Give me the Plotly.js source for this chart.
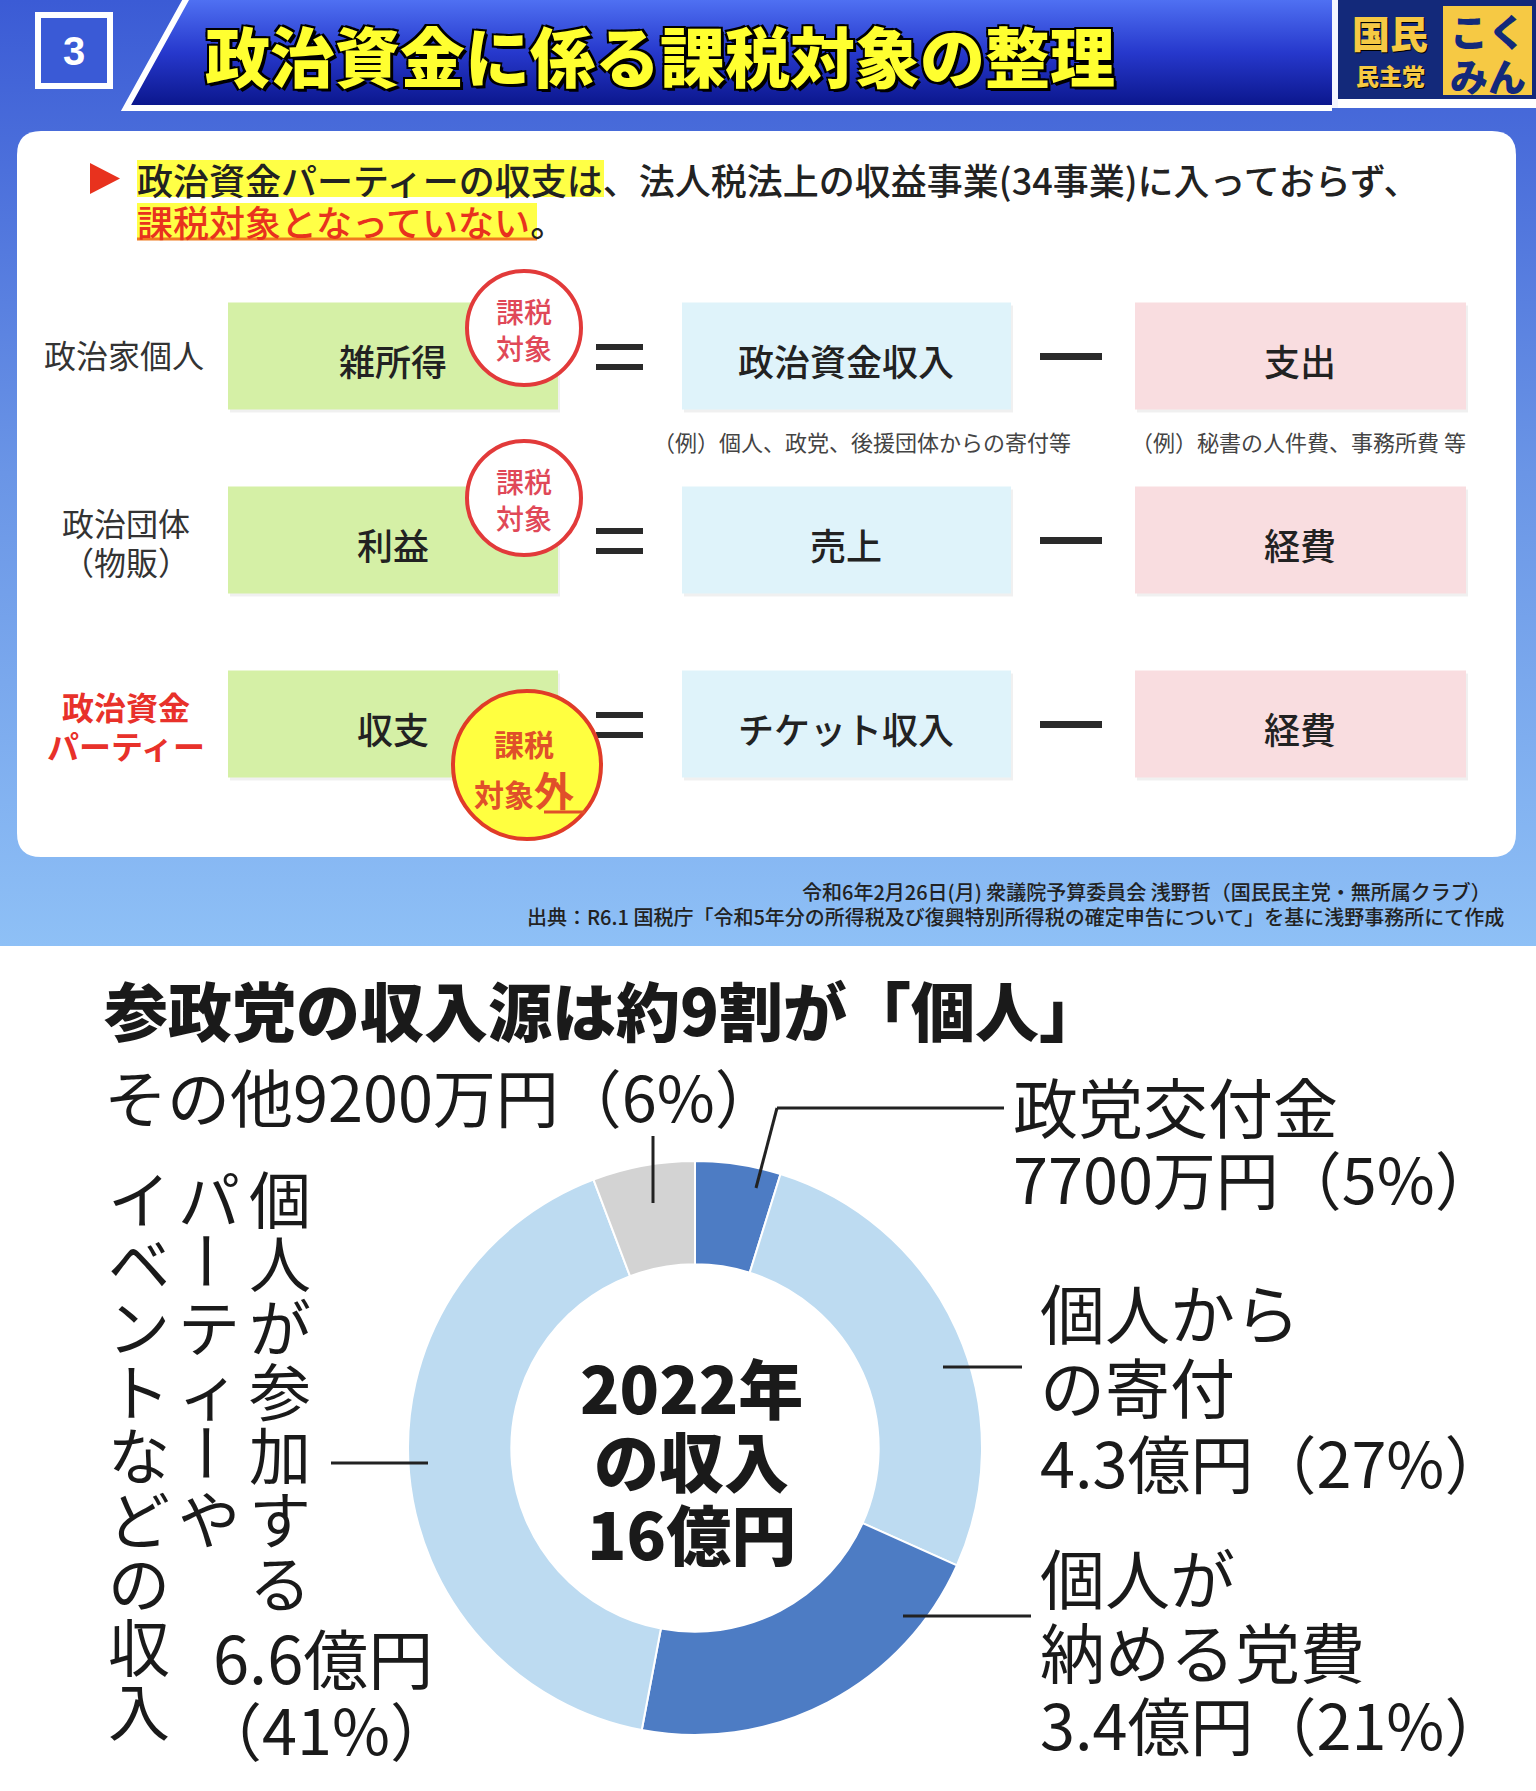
<!DOCTYPE html>
<html><head><meta charset="utf-8">
<script src="https://cdn.plot.ly/plotly-3.0.1.min.js"></script>
<style>html,body{margin:0;padding:0;background:#fff;}#chart{width:1536px;height:1791px;}</style>
</head><body><div id="chart"></div>
<script>
// ---------- data ----------
const headerTitle = '政治資金に係る課税対象の整理';
const rowLabels = [['政治家個人'], ['政治団体', '（物販）'], ['政治資金', 'パーティー']];
const resultTerms = ['雑所得', '利益', '収支'];
const revenueTerms = ['政治資金収入', '売上', 'チケット収入'];
const costTerms = ['支出', '経費', '経費'];
const taxStatus = ['課税対象', '課税対象', '課税対象外'];
const exampleNotes = ['（例）個人、政党、後援団体からの寄付等', '（例）秘書の人件費、事務所費 等'];
const footerLines = ['令和6年2月26日(月) 衆議院予算委員会 浅野哲（国民民主党・無所属クラブ）',
  '出典：R6.1 国税庁「令和5年分の所得税及び復興特別所得税の確定申告について」を基に浅野事務所にて作成'];

const pieTitle = '参政党の収入源は約9割が「個人」';
const sliceNames = ['政党交付金', '個人からの寄付', '個人が納める党費', '個人が参加するパーティーやイベントなどの収入', 'その他'];
const sliceAmounts = [0.77, 4.3, 3.4, 6.6, 0.92];           // 億円
const sliceAmountText = ['7700万円', '4.3億円', '3.4億円', '6.6億円', '9200万円'];
const slicePercents = [5, 27, 21, 41, 6];
const centerLines = ['2022年', 'の収入', '16億円'];

// ---------- layout helpers ----------
const W = 1536, H = 1791;
const JP = '"Noto Sans CJK JP", "Noto Sans", sans-serif';
const shapes = [], ann = [];
function rect(x0, y0, x1, y1, fill, line) {
  shapes.push({type: 'rect', xref: 'x', yref: 'y', x0, y0, x1, y1, fillcolor: fill,
    line: line || {width: 0}, layer: 'above'});
}
function path(p, fill, line) {
  shapes.push({type: 'path', xref: 'x', yref: 'y', path: p, fillcolor: fill || 'rgba(0,0,0,0)',
    line: line || {width: 0}, layer: 'above'});
}
function seg(x0, y0, x1, y1, color, width) {
  shapes.push({type: 'line', xref: 'x', yref: 'y', x0, y0, x1, y1, line: {color, width}, layer: 'above'});
}
function circ(cx, cy, r, fill, color, width) {
  shapes.push({type: 'circle', xref: 'x', yref: 'y', x0: cx - r, y0: cy - r, x1: cx + r, y1: cy + r,
    fillcolor: fill, line: {color, width}, layer: 'above'});
}
function rrect(x0, y0, x1, y1, r) {
  return `M${x0 + r},${y0} L${x1 - r},${y0} Q${x1},${y0} ${x1},${y0 + r} L${x1},${y1 - r} Q${x1},${y1} ${x1 - r},${y1} L${x0 + r},${y1} Q${x0},${y1} ${x0},${y1 - r} L${x0},${y0 + r} Q${x0},${y0} ${x0 + r},${y0} Z`;
}
function txt(x, y, text, size, color, o) {
  o = o || {};
  const a = {x, y, xref: 'x', yref: 'y', text, showarrow: false,
    xanchor: o.xa || 'center', yanchor: o.ya || 'middle', borderpad: 0,
    font: {family: o.family || JP, size, color, weight: o.weight || 400}};
  if (o.shadow) a.font.shadow = o.shadow;
  if (o.angle) a.textangle = o.angle;
  ann.push(a);
}

// ---------- header ----------
path('M190,-8 L126,108 L1332,108', null, {color: '#ffffff', width: 6});
seg(1335, 0, 1335, 108, '#f4f6ff', 6);
rect(1338, 0, 1536, 99, '#13297a');
rect(1338, 99, 1536, 108, '#ffffff');
rect(1443, 6, 1532, 95, '#f6c944');
rect(38, 15, 110, 86, '#3a5ad6', {color: '#ffffff', width: 6});
txt(74, 51, '3', 40, '#ffffff', {weight: 700, family: '"Liberation Sans", Arial, sans-serif'});
txt(204, 54, headerTitle, 65, '#ffff30', {xa: 'left', weight: 900,
  shadow: '3px 3px 0 #000, -2px -2px 0 #000, 2px -2px 0 #000, -2px 2px 0 #000, 2px 2px 0 #000'});
txt(1390, 31, '国民', 38, '#f6c944', {weight: 900, shadow: '1px 1px 0 #000'});
txt(1390, 75, '民主党', 23, '#f6c944', {weight: 900, shadow: '1px 1px 0 #000'});
txt(1488, 29, 'こく', 38, '#13297a', {weight: 900});
txt(1488, 74, 'みん', 38, '#13297a', {weight: 900});

// ---------- white panel ----------
path(rrect(17, 131, 1516, 857, 24), '#ffffff');
path('M90,163 L120,178.5 L90,194 Z', '#e8321e');
rect(137, 160, 604, 197, '#ffff46');
rect(137, 203, 537, 240, '#ffff46');
seg(137, 239, 537, 239, '#f07a1e', 3);
txt(136, 179, '政治資金パーティーの収支は、法人税法上の収益事業(34事業)に入っておらず、', 36, '#222222', {xa: 'left', weight: 500});
txt(136, 221, '<span style="color:#e8321e">課税対象となっていない</span>。', 36, '#222222', {xa: 'left', weight: 500});

const rowCenters = [356, 540, 724];
const boxH = 107;
const colBoxes = [[228, 558, '#d5f0a6'], [682, 1011, '#dff3fa'], [1135, 1466, '#f9dde0']];
rowCenters.forEach((cy, i) => {
  const y0 = cy - boxH / 2, y1 = cy + boxH / 2;
  colBoxes.forEach(([x0, x1, c]) => {
    rect(x0 + 2, y0 + 3, x1 + 2, y1 + 3, 'rgba(0,0,0,0.06)');
    rect(x0, y0, x1, y1, c);
  });
  // = and −
  rect(596, cy - 12, 643, cy - 6, '#2a2a2a');
  rect(596, cy + 8, 643, cy + 14, '#2a2a2a');
  rect(1040, cy - 3, 1102, cy + 4, '#2a2a2a');
  // texts
  const lab = rowLabels[i];
  const labColor = i === 2 ? '#e8312a' : '#333333';
  const labWeight = i === 2 ? 700 : 400;
  if (lab.length === 1) txt(124, cy - 2, lab[0], 32, labColor, {weight: labWeight});
  else { txt(126, cy - 18, lab[0], 32, labColor, {weight: labWeight}); txt(126, cy + 21, lab[1], 32, labColor, {weight: labWeight}); }
  txt(393, cy + 4, resultTerms[i], 36, '#222222', {weight: 500});
  txt(846, cy + 4, revenueTerms[i], 36, '#222222', {weight: 500});
  txt(1300, cy + 4, costTerms[i], 36, '#222222', {weight: 500});
});
// stamps
const stampPos = [[524, 328, 57], [524, 498, 57], [527, 765, 74]];
taxStatus.forEach((s, i) => {
  const [cx, cy, r] = stampPos[i];
  if (s.endsWith('外')) {
    circ(cx, cy, r, '#ffff40', '#e03c28', 4);
    txt(cx - 3, cy - 22, s.slice(0, 2), 30, '#e0502a', {weight: 700});
    txt(cx - 3, cy + 24, s.slice(2, 4) + '<span style="font-size:40px">' + s.slice(4) + '</span>', 30, '#e0502a', {weight: 700});
    seg(cx + 17, cy + 47, cx + 58, cy + 47, '#e0502a', 3);
  } else {
    circ(cx, cy, r, '#ffffff', '#e23a3a', 4);
    txt(cx, cy - 17, s.slice(0, 2), 28, '#e04858', {weight: 500});
    txt(cx, cy + 20, s.slice(2), 28, '#e04858', {weight: 500});
  }
});
txt(862, 441, exampleNotes[0], 22, '#444444');
txt(1298, 441, exampleNotes[1], 22, '#444444');
txt(1492, 891, footerLines[0], 20, '#222222', {xa: 'right', weight: 500});
txt(1505, 916, footerLines[1], 20, '#222222', {xa: 'right', weight: 500});

// ---------- bottom: donut ----------
const BK = '#1a1a1a', FS = 63;
txt(103, 1008, pieTitle, 64, BK, {xa: 'left', weight: 900});
txt(103, 1094, 'その他' + sliceAmountText[4] + '（' + slicePercents[4] + '%）', FS, BK, {xa: 'left'});
txt(1012, 1105, sliceNames[0], 65, BK, {xa: 'left'});
txt(1012, 1176, sliceAmountText[0] + '（' + slicePercents[0] + '%）', FS, BK, {xa: 'left'});
txt(1039, 1311, '個人から', 65, BK, {xa: 'left'});
txt(1039, 1385, 'の寄付', 65, BK, {xa: 'left'});
txt(1039, 1460, sliceAmountText[1] + '（' + slicePercents[1] + '%）', FS, BK, {xa: 'left'});
txt(1039, 1576, '個人が', 65, BK, {xa: 'left'});
txt(1039, 1650, '納める党費', 65, BK, {xa: 'left'});
txt(1039, 1722, sliceAmountText[2] + '（' + slicePercents[2] + '%）', FS, BK, {xa: 'left'});
// vertical label (right-to-left columns)
const vCols = [['個人が参加する', 280], ['パーティーや', 209], ['イベントなどの収入', 139]];
vCols.forEach(([s, x]) => {
  Array.from(s).forEach((ch, k) => {
    txt(x, 1197 + k * 64, ch, 62, BK, ch === 'ー' ? {angle: 90} : {});
  });
});
txt(212, 1656, sliceAmountText[3], 65, BK, {xa: 'left'});
txt(198, 1727, '（' + slicePercents[3] + '%）', FS, BK, {xa: 'left'});
centerLines.forEach((s, i) => txt(691, 1386 + i * 73, s, 65, BK, {weight: 800}));
// leader lines
const LC = '#222222', LW = 3;
seg(653, 1136, 653, 1203, LC, LW);
seg(777, 1108, 1004, 1108, LC, LW);
seg(777, 1108, 756, 1188, LC, LW);
seg(943, 1367, 1022, 1367, LC, LW);
seg(903, 1616, 1031, 1616, LC, LW);
seg(331, 1463, 428, 1463, LC, LW);

const cx = 695, cy = 1448, R = 287;
const traces = [
  {type: 'scatter', x: [0, W, W, 0, 0], y: [0, 0, 946, 946, 0], mode: 'lines', fill: 'toself',
   line: {width: 0}, hoverinfo: 'skip', showlegend: false,
   fillgradient: {type: 'vertical', start: 0, stop: 946, colorscale: [[0, '#3b5bd5'], [0.5, '#6a95e6'], [1, '#8ec0f6']]}},
  {type: 'scatter', x: [190, 1332, 1332, 126, 190], y: [-8, -8, 106, 106, -8], mode: 'lines', fill: 'toself',
   line: {width: 0}, hoverinfo: 'skip', showlegend: false,
   fillgradient: {type: 'vertical', start: 0, stop: 106, colorscale: [[0, '#4f70f2'], [0.5, '#2638cc'], [1, '#0b168c']]}},
  {type: 'pie', labels: sliceNames, values: sliceAmounts, sort: false, direction: 'clockwise', rotation: 0,
   hole: 0.64, textinfo: 'none', hoverinfo: 'skip', showlegend: false,
   marker: {colors: ['#4d7cc4', '#bddbf1', '#4d7cc4', '#bddbf1', '#d3d3d3'], line: {color: '#ffffff', width: 2}},
   domain: {x: [(cx - R) / W, (cx + R) / W], y: [(H - cy - R) / H, (H - cy + R) / H]}}
];
const layout = {
  width: W, height: H, margin: {l: 0, r: 0, t: 0, b: 0}, paper_bgcolor: '#ffffff', plot_bgcolor: 'rgba(0,0,0,0)',
  xaxis: {range: [0, W], visible: false, fixedrange: true},
  yaxis: {range: [H, 0], visible: false, fixedrange: true},
  shapes, annotations: ann, showlegend: false
};
Plotly.newPlot('chart', traces, layout, {staticPlot: true});
</script></body></html>
